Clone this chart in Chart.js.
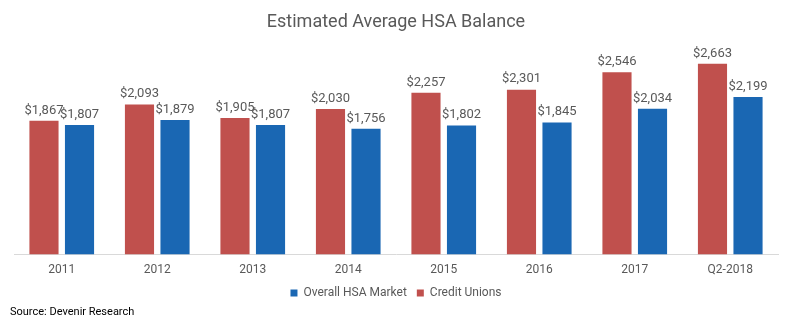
<!DOCTYPE html>
<html>
<head>
<meta charset="utf-8">
<script src="https://cdn.jsdelivr.net/npm/chart.js@4"></script>
<style>
  html, body { margin: 0; padding: 0; background: #fff; }
  #wrap { width: 792px; height: 324px; position: relative; }
</style>
</head>
<body>
<div id="wrap"><canvas id="chart"></canvas></div>
<script>
const categories = ["2011", "2012", "2013", "2014", "2015", "2016", "2017", "Q2-2018"];
const creditUnions = [1867, 2093, 1905, 2030, 2257, 2301, 2546, 2663];
const overallMarket = [1807, 1879, 1807, 1756, 1802, 1845, 2034, 2199];

const textColor = "#595959";

// draws "$1,234" above every bar and the source note at the bottom
const labelsPlugin = {
  id: "barLabels",
  afterDatasetsDraw(chart) {
    const ctx = chart.ctx;
    ctx.save();
    ctx.font = "13px Roboto";
    ctx.fillStyle = textColor;
    ctx.textAlign = "center";
    ctx.textBaseline = "bottom";
    chart.data.datasets.forEach((ds, i) => {
      chart.getDatasetMeta(i).data.forEach((bar, j) => {
        ctx.fillText("$" + ds.data[j].toLocaleString("en-US"), bar.x, bar.y - 4);
      });
    });
    ctx.font = "11px Roboto";
    ctx.fillStyle = "#000";
    ctx.textAlign = "left";
    ctx.fillText("Source: Devenir Research", 10, 318);
    ctx.restore();
  },
};

const chart = new Chart(document.getElementById("chart").getContext("2d"), {
  type: "bar",
  data: {
    labels: categories,
    datasets: [
      {
        label: "Credit Unions",
        data: creditUnions,
        backgroundColor: "#c0504d",
      },
      {
        label: "Overall HSA Market",
        data: overallMarket,
        backgroundColor: "#1a67b3",
      },
    ],
  },
  options: {
    responsive: true,
    maintainAspectRatio: false,
    animation: false,
    categoryPercentage: 0.744,
    barPercentage: 0.82,
    layout: { padding: { left: 14, right: 14, bottom: 15 } },
    scales: {
      x: {
        grid: { display: false },
        border: { color: "#d9d9d9" },
        ticks: { color: textColor, font: { family: "Roboto", size: 12 }, padding: 0 },
      },
      y: {
        display: false,
        min: 0,
        max: 3000,
      },
    },
    plugins: {
      title: {
        display: true,
        text: "Estimated Average HSA Balance",
        color: textColor,
        font: { family: "Roboto", size: 18, weight: "normal" },
        padding: { top: 12, bottom: 6 },
      },
      legend: {
        position: "bottom",
        reverse: true,
        labels: {
          color: textColor,
          font: { family: "Roboto", size: 12 },
          boxWidth: 7,
          boxHeight: 7,
          padding: 10,
        },
      },
      tooltip: { enabled: false },
    },
  },
  plugins: [labelsPlugin],
});
</script>
</body>
</html>
